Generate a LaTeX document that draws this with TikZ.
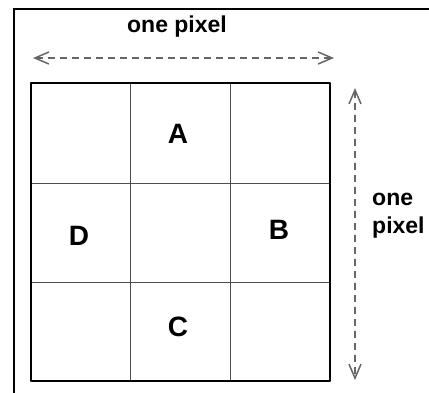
\documentclass[tikz,border=0pt]{standalone}
\usepackage{fontspec}
\setmainfont{Liberation Sans}
\usetikzlibrary{arrows.meta}
\begin{document}
\begin{tikzpicture}[x=1pt,y=-1pt,
  lbl/.style={font=\bfseries\fontsize{23}{26}\selectfont},
  cell/.style={font=\bfseries\fontsize{28}{30}\selectfont},
  dim/.style={draw=black!60,dash pattern=on 7pt off 5pt,line width=1.3pt,
    {Straight Barb[length=14pt,width=12pt,line width=1.5pt]}-{Straight Barb[length=14pt,width=12pt,line width=1.5pt]}}]
\useasboundingbox (0,0) rectangle (429,392);
% outer frame (cut by the image edge)
\draw[line width=1.5pt] (14,400) -- (14,9) -- (440,9);
% grid
\draw[line width=1pt,black!70] (130,83) -- (130,381) (230,83) -- (230,381)
  (31,183) -- (330,183) (31,282) -- (330,282);
\draw[line width=2pt,line join=round] (31,83) rectangle (330,381);
% labels
\node[cell] (A) at (178,134) {A};
\node[cell] (D) at (79,236) {D};
\node[cell] (B) at (279,230) {B};
\node[cell] (C) at (178,327) {C};
% horizontal dimension
\coordinate (hl) at (33,58);
\coordinate (hr) at (334,58);
\draw[dim] (hl) -- (hr);
\node[lbl] (toplbl) at (177,27) {one pixel};
% vertical dimension
\coordinate (vt) at (355,88);
\coordinate (vb) at (355,380);
\draw[dim] (vt) -- (vb);
\node[align=left,anchor=west,inner sep=0pt,font=\bfseries\fontsize{23}{28}\selectfont] (sidelbl) at (372,216) {one\\pixel};
\end{tikzpicture}
\end{document}
